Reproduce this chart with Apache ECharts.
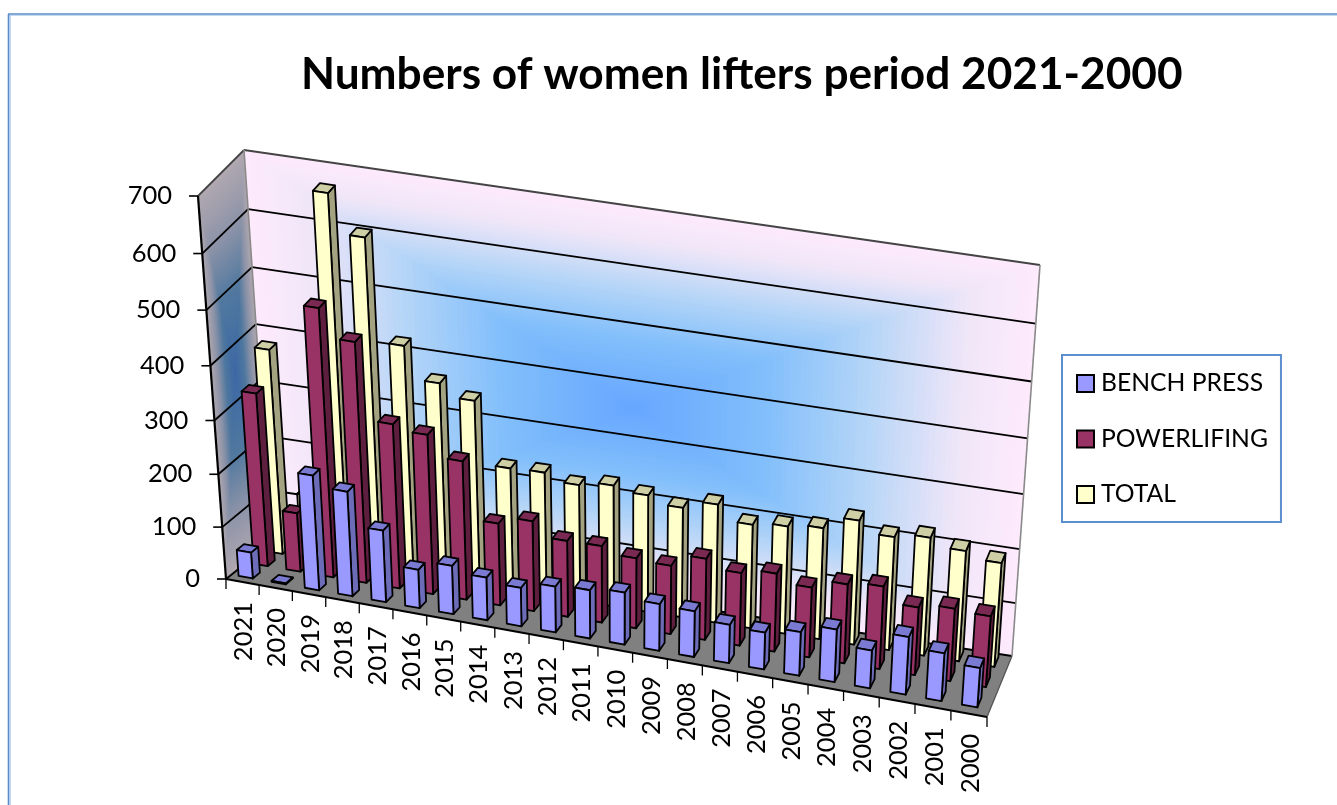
<!DOCTYPE html>
<html><head><meta charset="utf-8">
<style>html,body{margin:0;padding:0;background:#fff}#c{width:1337px;height:805px}</style>
<script src="https://cdn.jsdelivr.net/npm/echarts@6/dist/echarts.min.js"></script>
</head><body><div id="c"></div>
<script>
const years = [2021,2020,2019,2018,2017,2016,2015,2014,2013,2012,2011,2010,2009,2008,2007,2006,2005,2004,2003,2002,2001,2000].map(String);
const benchPress = [50,2,218,199,137,74,93,82,74,88,93,100,90,88,74,71,84,101,73,111,92,76];
const powerlifting = [322,111,495,445,307,298,260,155,170,144,145,133,130,154,138,148,133,150,157,129,138,135];
const total = [376,119,667,600,420,363,341,228,230,217,226,218,205,221,194,201,208,232,212,221,207,195];
const yTicks = [0,100,200,300,400,500,600,700];
const seriesNames = ['BENCH PRESS','POWERLIFING','TOTAL'];
const faces = [
 {front:'#9999ff',top:'#7a7ad2',side:'#6c6cb8'},
 {front:'#993366',top:'#7a2952',side:'#5e1f3f'},
 {front:'#ffffcc',top:'#cfcfa5',side:'#a3a382'}
];
// projection corners of the chart box (front/back, left/right, bottom/top)
const box = {
 flb:[226,579], flt:[198,196], blb:[271,543], blt:[244,150],
 frb:[987,717], frt:[1014,336], brb:[1012,656], brt:[1040,265]
};
const G = {left:100, top:100, width:1000, height:600};
const warp = 0.045, warpV = 0.06, depthStart = 0.12, depthStep = 0.335, barDepth = 0.16, barWidth = 0.43, barShift = -0.003;
const LABEL_FONT='25.5px Lato';
const lerp=(a,b,t)=>[a[0]+(b[0]-a[0])*t,a[1]+(b[1]-a[1])*t];
function P(u,w,v){
  const uu=u-warp*u*(1-u);
  const vv=v-warpV*v*(1-v);
  const b=lerp(lerp(box.flb,box.frb,uu),lerp(box.blb,box.brb,uu),w);
  const t=lerp(lerp(box.flt,box.frt,uu),lerp(box.blt,box.brt,uu),w);
  return lerp(b,t,vv);
}
const normU=x=>(x-G.left)/G.width;
const normV=y=>(G.top+G.height-y)/G.height;
function hex(c){return [1,3,5].map(i=>parseInt(c.substr(i,2),16));}
function ramp(stops,t){
  for(let i=1;i<stops.length;i++){
    if(t<=stops[i][0]){
      const a=stops[i-1],b=stops[i],f=(t-a[0])/(b[0]-a[0]);
      const A=hex(a[1]),B=hex(b[1]);
      return 'rgb('+A.map((x,k)=>Math.round(x+(B[k]-x)*f)).join(',')+')';
    }
  }
  return stops[stops.length-1][1];
}
const backStops=[[0,'#fdeafc'],[0.16,'#efe6f8'],[0.4,'#b4d5f7'],[0.65,'#82bffb'],[1,'#66a6ff']];
const sideStops=[[0,'#b0a8b0'],[0.3,'#8c93a8'],[0.6,'#50789f'],[1,'#3c68a6']];
const poly=(pts,fill,stroke,lw)=>({type:'polygon',silent:true,shape:{points:pts},style:{fill:fill,stroke:stroke||null,lineWidth:lw||0,lineJoin:'round'}});
const line=(a,b,stroke,lw)=>({type:'line',silent:true,shape:{x1:a[0],y1:a[1],x2:b[0],y2:b[1]},style:{stroke:stroke,lineWidth:lw}});

function renderWalls(params,api){
  const ch=[];
  const N=70;
  for(let i=0;i<N;i++){
    const t=i/N,h=t/2;
    ch.push(poly([P(h,1,h),P(1-h,1,h),P(1-h,1,1-h),P(h,1,1-h)],ramp(backStops,t)));
  }
  for(let i=0;i<N;i++){
    const t=i/N,h=t/2;
    ch.push(poly([P(0,h,h),P(0,1-h,h),P(0,1-h,1-h),P(0,h,1-h)],ramp(sideStops,t)));
  }
  ch.push(poly([P(0,0,0),P(1,0,0),P(1,1,0),P(0,1,0)],'#808080'));
  yTicks.forEach(tk=>{
    const v=normV(api.coord([0,tk])[1]);
    const top=tk===yTicks[yTicks.length-1];
    ch.push(line(P(0,0,v),P(0,1,v),top?'#444':'#000',1.8));
    ch.push(line(P(0,1,v),P(1,1,v),top?'#444':'#000',1.8));
    const p=P(0,0,v);
    ch.push(line([p[0]-9,p[1]],p,'#000',1.6));
    ch.push({type:'text',silent:true,style:{x:p[0]-26,y:p[1],text:String(tk),textAlign:'right',textVerticalAlign:'middle',font:LABEL_FONT,fill:'#000'}});
  });
  ch.push(line(P(0,1,0),P(0,1,1),'#8a8a8a',1.6));
  ch.push(line(P(1,1,0),P(1,1,1),'#8a8a8a',1.6));
  ch.push(line(P(1,0,0),P(1,1,0),'#555',1.3));
  ch.push(line(P(0,0,0),P(0,0,1),'#000',2.2));
  ch.push(line(P(0,0,0),P(1,0,0),'#000',2.2));
  for(let i=0;i<=years.length;i++){
    const p=P(i/years.length,0,0);
    ch.push(line(p,[p[0],p[1]+10],'#000',1.3));
  }
  return {type:'group',children:ch};
}
function renderLabels(params,api){
  const c=api.coord([api.value(0),0]);
  const p=P(normU(c[0]),0,0);
  return {type:'text',silent:true,x:p[0]+1.5,y:p[1]+20,rotation:Math.PI/2,
    style:{x:0,y:0,text:years[params.dataIndex],textAlign:'right',textVerticalAlign:'middle',font:LABEL_FONT,fill:'#000'}};
}
function barRenderer(s){
  return function(params,api){
    const c=api.coord([api.value(0),api.value(1)]);
    const band=api.size([1,0])[0];
    const u1=normU(c[0]-band*barWidth/2)+barShift, u2=normU(c[0]+band*barWidth/2)+barShift;
    const v=normV(c[1]);
    const w1=depthStart+depthStep*s, w2=w1+barDepth;
    const f=faces[s], k='#000', lw=1.8;
    return {type:'group',children:[
      poly([P(u2,w1,0),P(u2,w2,0),P(u2,w2,v),P(u2,w1,v)],f.side,k,lw),
      poly([P(u1,w1,v),P(u2,w1,v),P(u2,w2,v),P(u1,w2,v)],f.top,k,lw),
      poly([P(u1,w1,0),P(u2,w1,0),P(u2,w1,v),P(u1,w1,v)],f.front,k,lw)
    ]};
  };
}
const seriesData=[benchPress,powerlifting,total];
const chart=echarts.init(document.getElementById('c'),null,{renderer:'canvas'});
chart.setOption({
  animation:false,
  backgroundColor:'#fff',
  title:{text:'Numbers of women lifters period 2021-2000',left:301,top:53,padding:0,
    textStyle:{fontFamily:'Lato',fontWeight:'bold',fontSize:44.2,color:'#000'}},
  grid:{left:G.left,top:G.top,width:G.width,height:G.height,show:false},
  xAxis:{type:'category',data:years,show:false},
  yAxis:{type:'value',min:0,max:700,interval:100,show:false},
  legend:{orient:'vertical',left:1062,top:355,padding:[16,13,15,14],itemWidth:17,itemHeight:17,itemGap:30.5,
    borderColor:'#5b8fd0',borderWidth:2,backgroundColor:'#fff',icon:'rect',selectedMode:false,
    textStyle:{fontFamily:'Lato',fontSize:24.7,color:'#000',padding:[0,0,0,2]},
    data:seriesNames.map((n,i)=>({name:n,icon:'rect',itemStyle:{color:faces[i].front,borderColor:'#000',borderWidth:2}}))},
  graphic:[
    {type:'line',silent:true,shape:{x1:8,y1:14,x2:1337,y2:14},style:{stroke:'#5b8bc8',lineWidth:1.6}},
    {type:'line',silent:true,shape:{x1:8,y1:15.5,x2:1337,y2:15.5},style:{stroke:'#c4d9f2',lineWidth:1.2}},
    {type:'line',silent:true,shape:{x1:8.5,y1:14,x2:8.5,y2:805},style:{stroke:'#5b8bc8',lineWidth:1.6}},
    {type:'line',silent:true,shape:{x1:10,y1:15,x2:10,y2:805},style:{stroke:'#a9c8f0',lineWidth:1.4}}
  ],
  series:[
    {type:'custom',name:'walls',z:1,silent:true,renderItem:renderWalls,data:[[0,0]],encode:{x:0,y:1}},
    {type:'custom',name:'labels',z:1,silent:true,renderItem:renderLabels,data:years.map((y,i)=>[i,0]),encode:{x:0,y:1}},
    ...seriesNames.map((n,s)=>({type:'custom',name:n,z:4-s+1,silent:true,renderItem:barRenderer(s),
      itemStyle:{color:faces[s].front},
      data:seriesData[s].map((v,i)=>[i,v]),encode:{x:0,y:1}}))
  ]
});
</script></body></html>
